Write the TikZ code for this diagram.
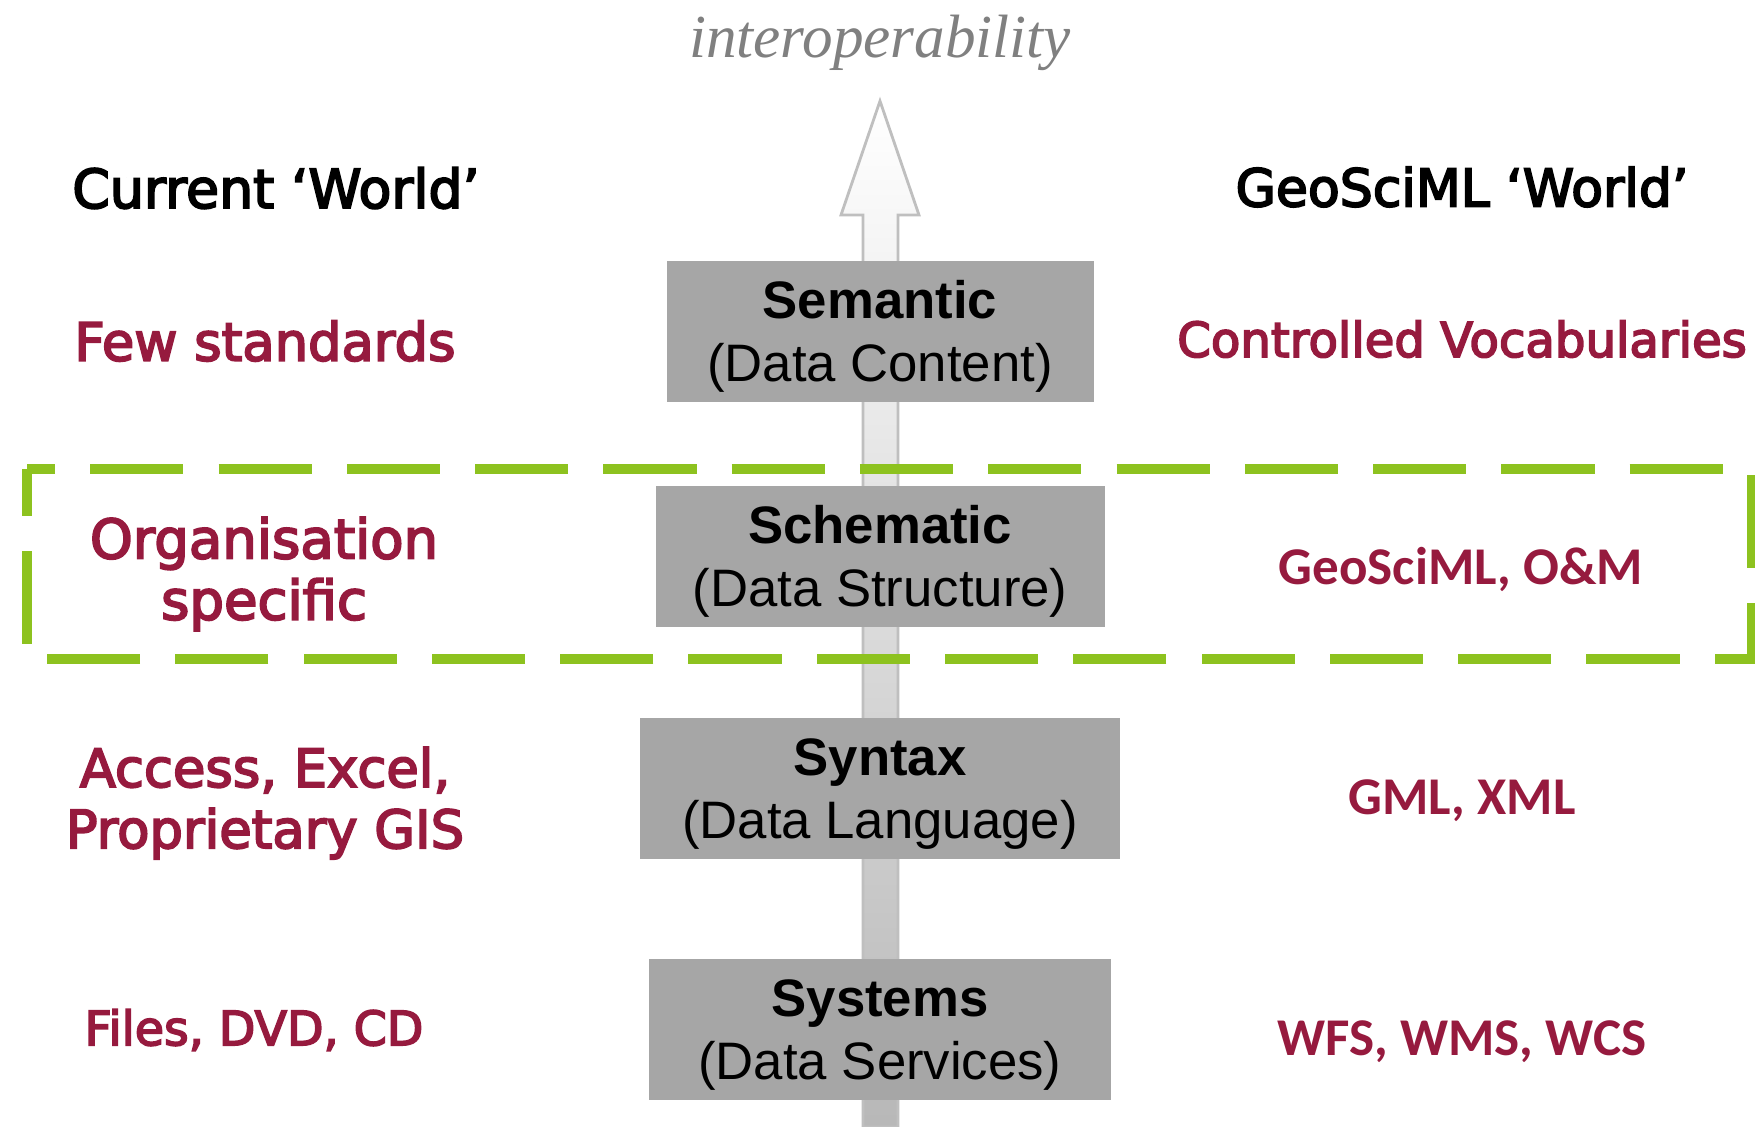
\documentclass[tikz,border=0pt]{standalone}
\usepackage{fontspec}
\setmainfont{Liberation Serif}
\setsansfont{Liberation Sans}
\newfontfamily\worldfont[FakeBold=3.5]{DejaVu Sans}
\newfontfamily\specfont{Carlito}
\usetikzlibrary{positioning}

\definecolor{layergray}{HTML}{A6A6A6}
\definecolor{worldred}{HTML}{961A3E}
\definecolor{orggreen}{HTML}{8DC21F}

% two-line caption of a layer, set a little low in its box
\newcommand{\layertext}[2]{\raisebox{-1.8pt}[\height][\depth]{\begin{tabular}{@{}c@{}}\textbf{#1}\\#2\end{tabular}}}

\begin{document}
\begin{tikzpicture}[
  x=0.1mm, y=-0.1mm,
  layer/.style={fill=layergray, inner sep=0pt, minimum height=14.1mm,
    font=\sffamily\fontsize{15}{18}\selectfont},
  world/.style={align=center, inner sep=0pt, font=\worldfont\fontsize{15}{17.4}\selectfont},
  heading/.style={world, text=black},
  example/.style={world, text=worldred},
  spec/.style={example, font=\specfont\bfseries\fontsize{15.1}{18}\selectfont},
  orgbox/.style={draw=orggreen, line width=3.1pt, dash pattern=on 26.5pt off 10pt, dash phase=18.5pt}
]
  \useasboundingbox (0,0) rectangle (1755,1127);

  % rising arrow behind the layers
  \coordinate (tip) at (880,101);
  \path[draw=black!25, line width=0.8pt, top color=white, bottom color=black!28]
    (tip) -- (919,215) -- (898,215) -- (898,1127) -- (863,1127) -- (863,215) -- (841,215) -- cycle;
  \node[font=\itshape\fontsize{17.4}{20}\selectfont, text=black!50, above=1.8mm of tip] (interop) {interoperability};

  % schematic band
  \draw[orgbox] (27,469) -- (1752,469) -- (1752,659) -- (27,659) -- cycle;

  % the four layers
  \node[layer, minimum width=42.7mm] (semantic) at (880,331) {\layertext{Semantic}{(Data Content)}};
  \node[layer, minimum width=44.9mm] (schematic) at (880,556) {\layertext{Schematic}{(Data Structure)}};
  \node[layer, minimum width=48.0mm] (syntax) at (880,788) {\layertext{Syntax}{(Data Language)}};
  \node[layer, minimum width=46.2mm] (systems) at (880,1029) {\layertext{Systems}{(Data Services)}};

  % current world
  \node[heading, font=\worldfont\fontsize{15.3}{17.4}\selectfont] (current) at (276,188) {Current ‘World’};
  \node[example] (fewstd) at (265,341) {Few standards};
  \node[example, font=\worldfont\fontsize{15.5}{17.4}\selectfont] (orgspec) at (264,574) {Organisation\\specific};
  \node[example] (access) at (265,803) {Access, Excel,\\Proprietary GIS};
  \node[example, font=\worldfont\fontsize{13.5}{16}\selectfont] (files) at (254,1030) {Files, DVD, CD};

  % geosciml world
  \node[heading, font=\worldfont\fontsize{14.8}{17.4}\selectfont] (geosciml) at (1462,187) {GeoSciML ‘World’};
  \node[example, font=\worldfont\fontsize{13.7}{16}\selectfont] (vocab) at (1462,339) {Controlled Vocabularies};
  \node[spec] (gsml) at (1461,569) {GeoSciML, O\&M};
  \node[spec] (gml) at (1462,801) {GML, XML};
  \node[spec] (wfs) at (1462,1042) {WFS, WMS, WCS};
\end{tikzpicture}
\end{document}
